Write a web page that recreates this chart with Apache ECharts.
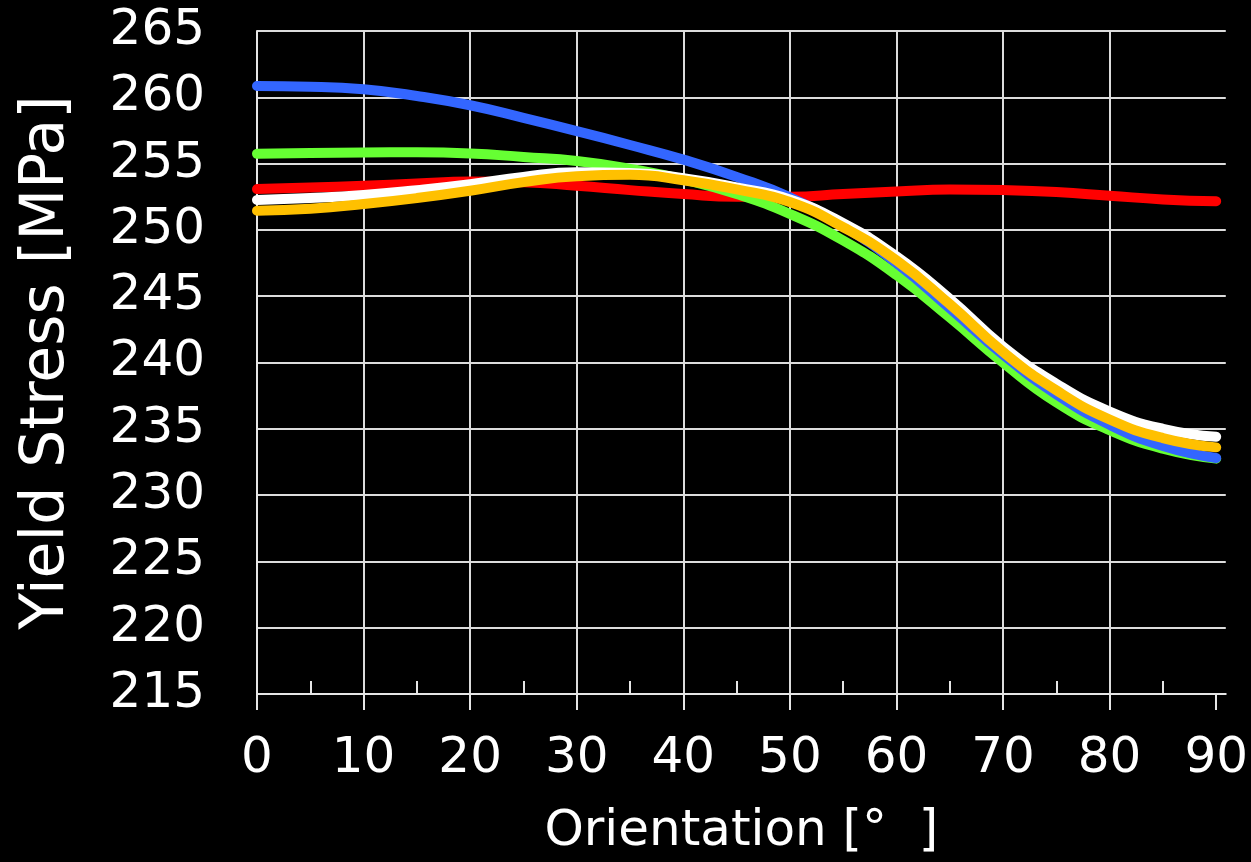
<!DOCTYPE html>
<html>
<head>
<meta charset="utf-8">
<script src="https://cdn.jsdelivr.net/npm/echarts@6/dist/echarts.min.js"></script>
<style>
html,body{margin:0;padding:0;background:#000;}
#c{width:1251px;height:862px;}
</style>
</head>
<body>
<div id="c"></div>
<script>
const orientations = [0,5,10,15,20,25,30,35,40,45,50,55,60,65,70,75,80,85,90];
const blueVals   = [260.85,260.8,260.6,260.1,259.4,258.45,257.45,256.4,255.3,254.0,252.45,250.3,247.5,244.1,240.6,237.6,235.3,233.7,232.8];
const greenVals  = [255.74,255.8,255.84,255.85,255.77,255.5,255.2,254.6,253.8,252.7,251.2,249.2,246.6,243.4,240.0,237.0,234.9,233.5,232.75];
const redVals    = [253.08,253.2,253.33,253.5,253.65,253.6,253.33,253.0,252.7,252.5,252.5,252.7,252.9,253.05,253.0,252.85,252.58,252.3,252.16];
const whiteVals  = [252.26,252.4,252.63,253.0,253.45,254.0,254.35,254.3,253.9,253.2,252.3,250.5,248.0,244.8,241.2,238.4,236.3,235.0,234.4];
const orangeVals = [251.45,251.6,251.95,252.4,252.95,253.6,254.05,254.15,253.75,253.05,252.1,250.2,247.7,244.4,240.8,237.9,235.7,234.3,233.6];
const majorTicks = [0,10,20,30,40,50,60,70,80,90];
const minorTicks = [5,15,25,35,45,55,65,75,85];

const seriesDefs = [
  {name:'Red', vals: redVals, color:'#FF0000'},
  {name:'Green', vals: greenVals, color:'#66FF33'},
  {name:'Blue', vals: blueVals, color:'#3366FF'},
  {name:'White', vals: whiteVals, color:'#FFFFFF'},
  {name:'Orange', vals: orangeVals, color:'#FFC000'}
];

const font = 'DejaVu Sans';
const chart = echarts.init(document.getElementById('c'), null, {renderer:'canvas'});
chart.setOption({
  backgroundColor:'#000000',
  animation:false,
  grid:{left:257, right:25, top:31, bottom:166, containLabel:false},
  xAxis:[{
    type:'value', min:0, max:90.9, interval:10,
    name:'Orientation [°  ]', nameLocation:'middle', nameGap:113,
    nameTextStyle:{color:'#fff', fontFamily:font, fontSize:50},
    axisLine:{show:true, onZero:false, lineStyle:{color:'#e6e6e6', width:2}},
    axisTick:{show:true, customValues:majorTicks, length:16, inside:false, lineStyle:{color:'#e6e6e6', width:2}},
    axisLabel:{customValues:majorTicks, color:'#fff', fontFamily:font, fontSize:50, margin:40},
    splitLine:{show:true, showMaxLine:false, lineStyle:{color:'#dcdcdc', width:2}}
  },{
    type:'value', min:0, max:90.9, position:'bottom', gridIndex:0,
    axisLine:{show:false},
    axisTick:{show:true, customValues:minorTicks, length:13, inside:true, lineStyle:{color:'#e6e6e6', width:2}},
    axisLabel:{show:false},
    splitLine:{show:false}
  }],
  yAxis:{
    type:'value', min:215, max:265, interval:5,
    name:'Yield Stress [MPa]', nameLocation:'middle', nameGap:180,
    nameTextStyle:{color:'#fff', fontFamily:font, fontSize:60},
    axisLine:{show:true, onZero:false, lineStyle:{color:'#e6e6e6', width:2}},
    axisTick:{show:false},
    axisLabel:{color:'#fff', fontFamily:font, fontSize:50, margin:52},
    splitLine:{show:true, lineStyle:{color:'#dcdcdc', width:2}}
  },
  series: seriesDefs.map(s => ({
    type:'line', name:s.name, xAxisIndex:0, smooth:0.5, showSymbol:false, symbol:'none',
    data: orientations.map((x,i)=>[x, s.vals[i]]),
    lineStyle:{color:s.color, width:10, cap:'round', join:'round'},
    itemStyle:{color:s.color}
  }))
});
</script>
</body>
</html>
